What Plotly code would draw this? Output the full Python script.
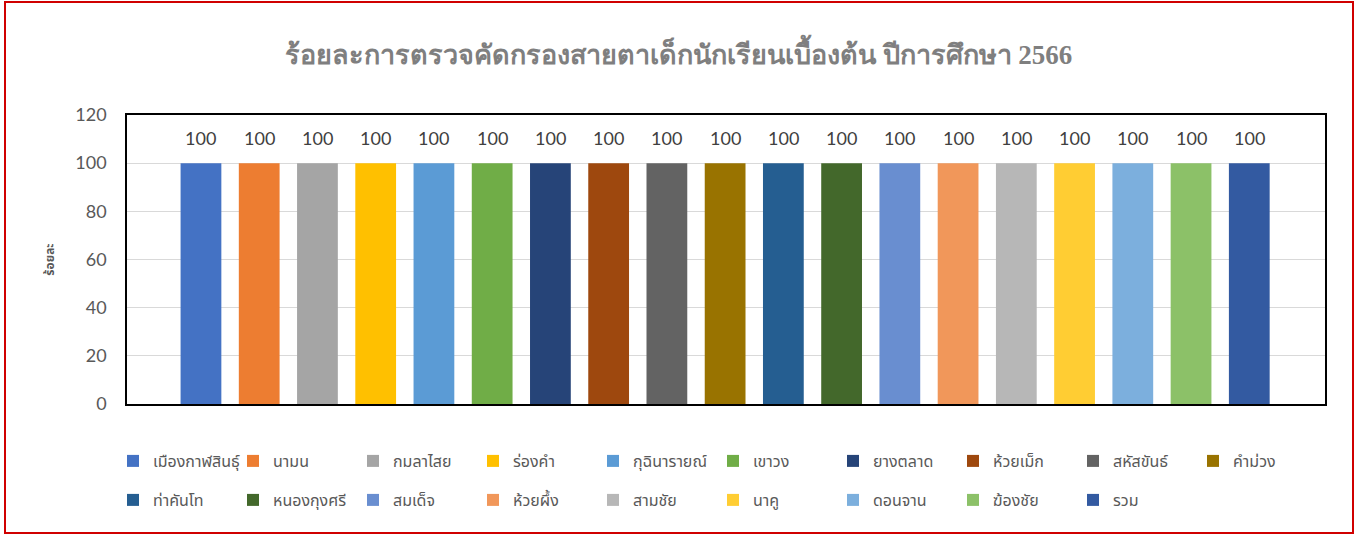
import plotly.graph_objects as go

districts = ["เมืองกาฬสินธุ์", "นามน", "กมลาไสย", "ร่องคำ", "กุฉินารายณ์", "เขาวง",
             "ยางตลาด", "ห้วยเม็ก", "สหัสขันธ์", "คำม่วง", "ท่าคันโท", "หนองกุงศรี",
             "สมเด็จ", "ห้วยผึ้ง", "สามชัย", "นาคู", "ดอนจาน", "ฆ้องชัย", "รวม"]
percent = [100, 100, 100, 100, 100, 100, 100, 100, 100, 100,
           100, 100, 100, 100, 100, 100, 100, 100, 100]
colors = ["#4472C4", "#ED7D31", "#A5A5A5", "#FFC000", "#5B9BD5", "#70AD47",
          "#264478", "#9E480E", "#636363", "#997300", "#255E91", "#43682B",
          "#698ED0", "#F1975A", "#B7B7B7", "#FFCD33", "#7CAFDD", "#8CC168", "#335AA1"]
y_ticks = [0, 20, 40, 60, 80, 100, 120]
title_text = "ร้อยละการตรวจคัดกรองสายตาเด็กนักเรียนเบื้องต้น ปีการศึกษา 2566"
y_title = "ร้อยละ"

W, H = 1357, 536
L, R, T, B = 127, 32, 115, 132
pw, ph = W - L - R, H - T - B

def px_x(p):
    return (p - L) / pw

def px_y(p):
    return (H - B - p) / ph

fig = go.Figure()
for i, (name, val, col) in enumerate(zip(districts, percent, colors)):
    fig.add_trace(go.Bar(
        x=[name], y=[val], name=name, marker=dict(color=col, line=dict(width=0)),
        width=0.7, legend="legend" if i < 10 else "legend2",
        hoverinfo="x+y",
    ))
    fig.add_annotation(x=name, y=val, text=str(val), showarrow=False,
                       yanchor="bottom", yshift=12, xref="x", yref="y",
                       font=dict(family="Lato, Open Sans, sans-serif", size=18, color="#404040"))

fig.add_shape(type="rect", xref="paper", yref="paper",
              x0=px_x(5), x1=px_x(1353), y0=px_y(533), y1=px_y(2),
              line=dict(color="#D00000", width=2), layer="below")

legend_font = dict(family="Noto Sans Thai, Tahoma, Leelawadee UI, sans-serif", size=16, color="#595959")
fig.update_layout(
    width=W, height=H,
    margin=dict(l=L, r=R, t=T, b=B, autoexpand=False),
    paper_bgcolor="white", plot_bgcolor="white",
    barmode="overlay",
    title=dict(text=title_text, x=0.5, xanchor="center", y=1 - 55 / H, yanchor="middle",
               font=dict(family="Liberation Serif, Times New Roman, serif", size=27, color="#7F7F7F",
                         weight="bold")),
    xaxis=dict(type="category", categoryorder="array", categoryarray=districts,
               range=[-1.27, 19.3], showticklabels=False, showgrid=False, ticks="",
               showline=True, linecolor="black", linewidth=1.5, mirror=True, zeroline=False),
    yaxis=dict(range=[0, 120], tickvals=y_ticks, showgrid=True, gridcolor="#D9D9D9", gridwidth=1,
               showline=True, linecolor="black", linewidth=1.5, mirror=True, zeroline=False,
               ticks="", ticklabelstandoff=15,
               tickfont=dict(family="Lato, Open Sans, sans-serif", size=18, color="#595959"),
               title=dict(text=y_title, standoff=18,
                          font=dict(family="Noto Sans Thai, Tahoma, sans-serif", size=12,
                                    color="#595959", weight="bold"))),
    legend=dict(orientation="h", x=px_x(113), xanchor="left", y=px_y(444), yanchor="top",
                entrywidth=75, entrywidthmode="pixels", font=legend_font, bgcolor="rgba(0,0,0,0)"),
    legend2=dict(orientation="h", x=px_x(113), xanchor="left", y=px_y(483), yanchor="top",
                 entrywidth=75, entrywidthmode="pixels", font=legend_font, bgcolor="rgba(0,0,0,0)"),
    showlegend=True,
)

fig.write_html("out.html", config={"displayModeBar": False},
               post_script="document.body.style.margin='0';document.body.style.overflow='hidden';")
